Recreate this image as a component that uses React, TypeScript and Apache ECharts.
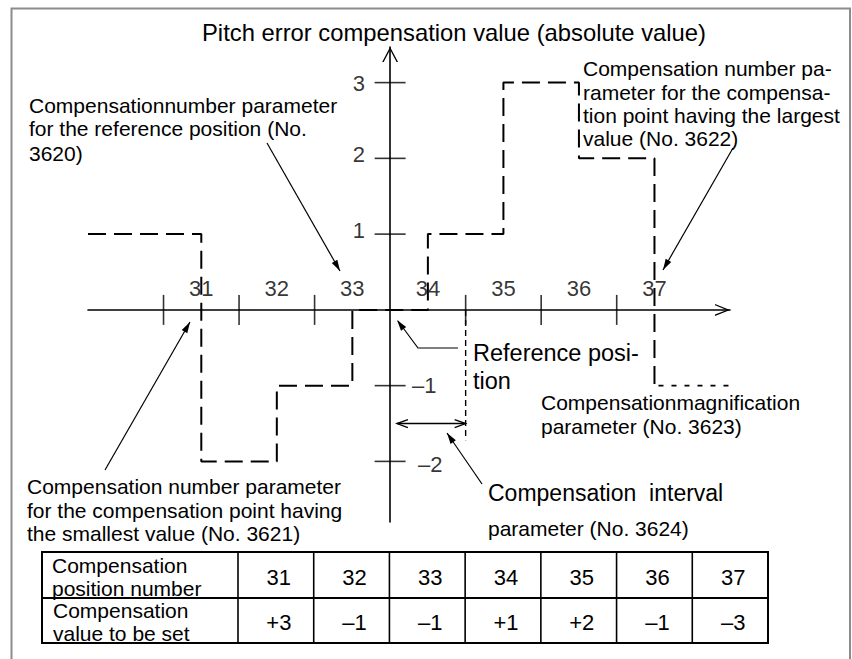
import React, { useEffect, useRef } from 'react';
import * as echarts from 'echarts';

const FONT = '"Liberation Sans", Arial, Helvetica, sans-serif';

// ---- data ----
const positionNumbers = [31, 32, 33, 34, 35, 36, 37];
const breakpoints = [-2.5, -1.5, -0.5, 0.5, 1.5, 2.5, 3.5];
const absoluteLevels = [1, -2, -1, 0, 1, 3, 2, -1];
const compensationValues = ['+3', '–1', '–1', '+1', '+2', '–1', '–3'];
const xTickValues = [-3, -2, -1, 1, 2, 3];
const yTickValues = [3, 2, 1, -1, -2];
const yTickLabels = ['3', '2', '1', '–1', '–2'];
const X_MIN = -4;
const X_MAX = 4.5;
const Y_MIN = -2.8;
const Y_MAX = 3.47;
const intervalStart = 0.09;
const intervalEnd = 1;
const intervalArrowY = -1.5;
const intervalMarkBottom = -1.72;

const BLACK = '#000';

function txt(text: string, x: number, y: number, size: number, align: string = 'left') {
  return {
    type: 'text',
    x,
    y,
    style: {
      text,
      fill: BLACK,
      font: `${size}px ${FONT}`,
      textAlign: align,
      align,
      textVerticalAlign: 'middle',
      verticalAlign: 'middle',
    },
  };
}

function head(x1: number, y1: number, x2: number, y2: number, len = 11, half = 3.2) {
  const dx = x2 - x1;
  const dy = y2 - y1;
  const L = Math.hypot(dx, dy);
  const ux = dx / L;
  const uy = dy / L;
  const bx = x2 - ux * len;
  const by = y2 - uy * len;
  return {
    type: 'polygon',
    shape: { points: [[x2, y2], [bx - uy * half, by + ux * half], [bx + uy * half, by - ux * half]] },
    style: { fill: BLACK },
  };
}

function openHead(x1: number, y1: number, x2: number, y2: number, len = 11, half = 4) {
  const dx = x2 - x1;
  const dy = y2 - y1;
  const L = Math.hypot(dx, dy);
  const ux = dx / L;
  const uy = dy / L;
  const bx = x2 - ux * len;
  const by = y2 - uy * len;
  return {
    type: 'polyline',
    shape: { points: [[bx - uy * half, by + ux * half], [x2, y2], [bx + uy * half, by - ux * half]] },
    style: { stroke: BLACK, lineWidth: 1.3, fill: 'none' },
  };
}

function arrow(x1: number, y1: number, x2: number, y2: number) {
  return [
    { type: 'line', shape: { x1, y1, x2, y2 }, style: { stroke: BLACK, lineWidth: 1.2 } },
    head(x1, y1, x2, y2),
  ];
}

export default function App() {
  const ref = useRef<HTMLDivElement>(null);

  useEffect(() => {
    if (!ref.current) return;
    const chart = echarts.init(ref.current, undefined, { renderer: 'svg' });

    const stepData: number[][] = [[X_MIN, absoluteLevels[0]]];
    breakpoints.forEach((bp, i) => {
      stepData.push([bp, absoluteLevels[i]]);
      stepData.push([bp, absoluteLevels[i + 1]]);
    });
    const lastBp = breakpoints[breakpoints.length - 1];
    const lastLevel = absoluteLevels[absoluteLevels.length - 1];

    const yLabelOffsets: Record<string, number[]> = {
      '3': [-25, 1],
      '2': [-25, -4],
      '1': [-25, -4],
      '–1': [22, 0],
      '–2': [28, 3],
    };

    const option: any = {
      animation: false,
      grid: { left: 88, right: 122, top: 47, bottom: 137, containLabel: false },
      xAxis: {
        type: 'value',
        min: X_MIN,
        max: X_MAX,
        axisLine: {
          onZero: true,
          lineStyle: { color: BLACK, width: 1.6 },
          symbol: ['none', 'path://M0,100 L40,0 L80,100 L71,100 L40,22 L9,100 Z'],
          symbolSize: [12, 15],
          symbolOffset: [0, -7.5],
        },
        axisTick: { show: false },
        axisLabel: { show: false },
        splitLine: { show: false },
      },
      yAxis: {
        type: 'value',
        min: Y_MIN,
        max: Y_MAX,
        axisLine: {
          onZero: true,
          lineStyle: { color: BLACK, width: 1.6 },
          symbol: ['none', 'path://M0,100 L53,0 L106,100 L96,100 L53,18 L10,100 Z'],
          symbolSize: [16, 15],
          symbolOffset: [0, -7.5],
        },
        axisTick: { show: false },
        axisLabel: { show: false },
        splitLine: { show: false },
      },
      series: [
        {
          type: 'line',
          data: stepData,
          symbol: 'none',
          clip: false,
          lineStyle: { color: BLACK, width: 2, type: [18, 8] },
          z: 3,
        },
        {
          type: 'line',
          data: [[lastBp, lastLevel], [X_MAX, lastLevel]],
          symbol: 'none',
          clip: false,
          lineStyle: { color: BLACK, width: 1.8, type: [5, 8], dashOffset: -4 },
          z: 3,
        },
        {
          type: 'line',
          data: [[intervalEnd, 0], [intervalEnd, intervalMarkBottom]],
          symbol: 'none',
          lineStyle: { color: BLACK, width: 1.4, type: [6, 4] },
          z: 3,
        },
        {
          type: 'scatter',
          data: xTickValues.map((v) => [v, 0]),
          symbol: 'rect',
          symbolSize: [1.6, 30],
          itemStyle: { color: BLACK },
          silent: true,
          z: 4,
        },
        {
          type: 'scatter',
          data: yTickValues.map((v, i) => ({
            value: [0, v],
            label: {
              show: true,
              position: 'inside',
              formatter: yTickLabels[i],
              align: v > 0 ? 'right' : 'left',
              offset: yLabelOffsets[yTickLabels[i]],
            },
          })),
          symbol: 'rect',
          symbolSize: [31, 1.6],
          itemStyle: { color: BLACK },
          label: {
            show: true,
            color: BLACK,
            fontSize: 22,
            fontFamily: FONT,
            verticalAlign: 'middle',
          },
          silent: true,
          z: 4,
        },
        {
          type: 'scatter',
          data: breakpoints.map((bp, i) => [bp, 0, positionNumbers[i]]),
          symbolSize: 0,
          itemStyle: { color: 'transparent' },
          label: {
            show: true,
            position: 'inside',
            offset: [0, -21],
            formatter: (p: any) => String(p.value[2]),
            color: BLACK,
            fontSize: 22,
            fontFamily: FONT,
            align: 'center',
            verticalAlign: 'middle',
          },
          silent: true,
          z: 5,
        },
      ],
    };

    chart.setOption(option);

    const p0 = chart.convertToPixel({ gridIndex: 0 }, [intervalStart, intervalArrowY]) as number[];
    const p1 = chart.convertToPixel({ gridIndex: 0 }, [intervalEnd, intervalArrowY]) as number[];

    // table geometry
    const tLeft = 42;
    const tTop = 552;
    const tMid = 598;
    const tBottom = 643;
    const cStart = 238;
    const tRight = 768;
    const cw = (tRight - cStart) / positionNumbers.length;

    const tableEls: any[] = [
      {
        type: 'rect',
        shape: { x: tLeft, y: tTop, width: tRight - tLeft, height: tBottom - tTop },
        style: { fill: 'none', stroke: BLACK, lineWidth: 2 },
      },
      { type: 'line', shape: { x1: tLeft, y1: tMid, x2: tRight, y2: tMid }, style: { stroke: BLACK, lineWidth: 2 } },
    ];
    for (let k = 0; k < positionNumbers.length; k++) {
      const x = cStart + k * cw;
      tableEls.push({ type: 'line', shape: { x1: x, y1: tTop, x2: x, y2: tBottom }, style: { stroke: BLACK, lineWidth: 1.6 } });
      tableEls.push(txt(String(positionNumbers[k]), x + cw / 2 + 3, 577, 22, 'center'));
      tableEls.push(txt(compensationValues[k], x + cw / 2 + 3, 622, 22, 'center'));
    }
    tableEls.push(txt('Compensation', 52, 565, 21));
    tableEls.push(txt('position number', 52, 588, 21));
    tableEls.push(txt('Compensation', 53, 610, 21));
    tableEls.push(txt('value to be set', 53, 633, 21));

    const graphic: any[] = [
      {
        type: 'polyline',
        shape: { points: [[11.5, 660], [11.5, 8.5], [850, 8.5], [850, 660]] },
        style: { stroke: '#8c8c8c', lineWidth: 2, fill: 'none' },
      },
      txt('Pitch error compensation value (absolute value)', 202, 32, 23.8),
      // annotation: reference position parameter
      txt('Compensationnumber parameter', 29, 105, 21),
      txt('for the reference position (No.', 29, 128, 21),
      txt('3620)', 29, 153, 21),
      ...arrow(267, 143, 340, 271),
      // annotation: largest value
      txt('Compensation number pa-', 583, 68, 21),
      txt('rameter for the compensa-', 583, 92, 21),
      txt('tion point having the largest', 583, 115, 21),
      txt('value (No. 3622)', 583, 138, 21),
      ...arrow(733, 148, 663, 270),
      // annotation: smallest value
      txt('Compensation number parameter', 27, 486, 21),
      txt('for the compensation point having', 27, 510, 21),
      txt('the smallest value (No. 3621)', 27, 533, 21),
      ...arrow(105, 470, 190, 322),
      // reference position
      txt('Reference posi-', 473, 353, 23.5),
      txt('tion', 473, 381, 23.5),
      {
        type: 'polyline',
        shape: { points: [[458, 348], [418, 348], [398, 321]] },
        style: { stroke: BLACK, lineWidth: 1.2, fill: 'none' },
      },
      head(418, 348, 397, 320),
      // magnification
      txt('Compensationmagnification', 541, 402, 21),
      txt('parameter (No. 3623)', 541, 426, 21),
      // interval
      txt('Compensation  interval', 488, 493, 23),
      txt('parameter (No. 3624)', 488, 528, 21),
      ...arrow(482, 484, 447, 433),
      // interval double arrow
      { type: 'line', shape: { x1: p0[0], y1: p0[1], x2: p1[0], y2: p1[1] }, style: { stroke: BLACK, lineWidth: 1.3 } },
      openHead(p1[0], p1[1], p0[0], p0[1]),
      openHead(p0[0], p0[1], p1[0], p1[1]),
      ...tableEls,
    ];

    chart.setOption({ graphic });

    return () => chart.dispose();
  }, []);

  return (
    <div
      ref={ref}
      style={{ position: 'absolute', left: 0, top: 0, width: 852, height: 659, background: '#fff' }}
    />
  );
}
